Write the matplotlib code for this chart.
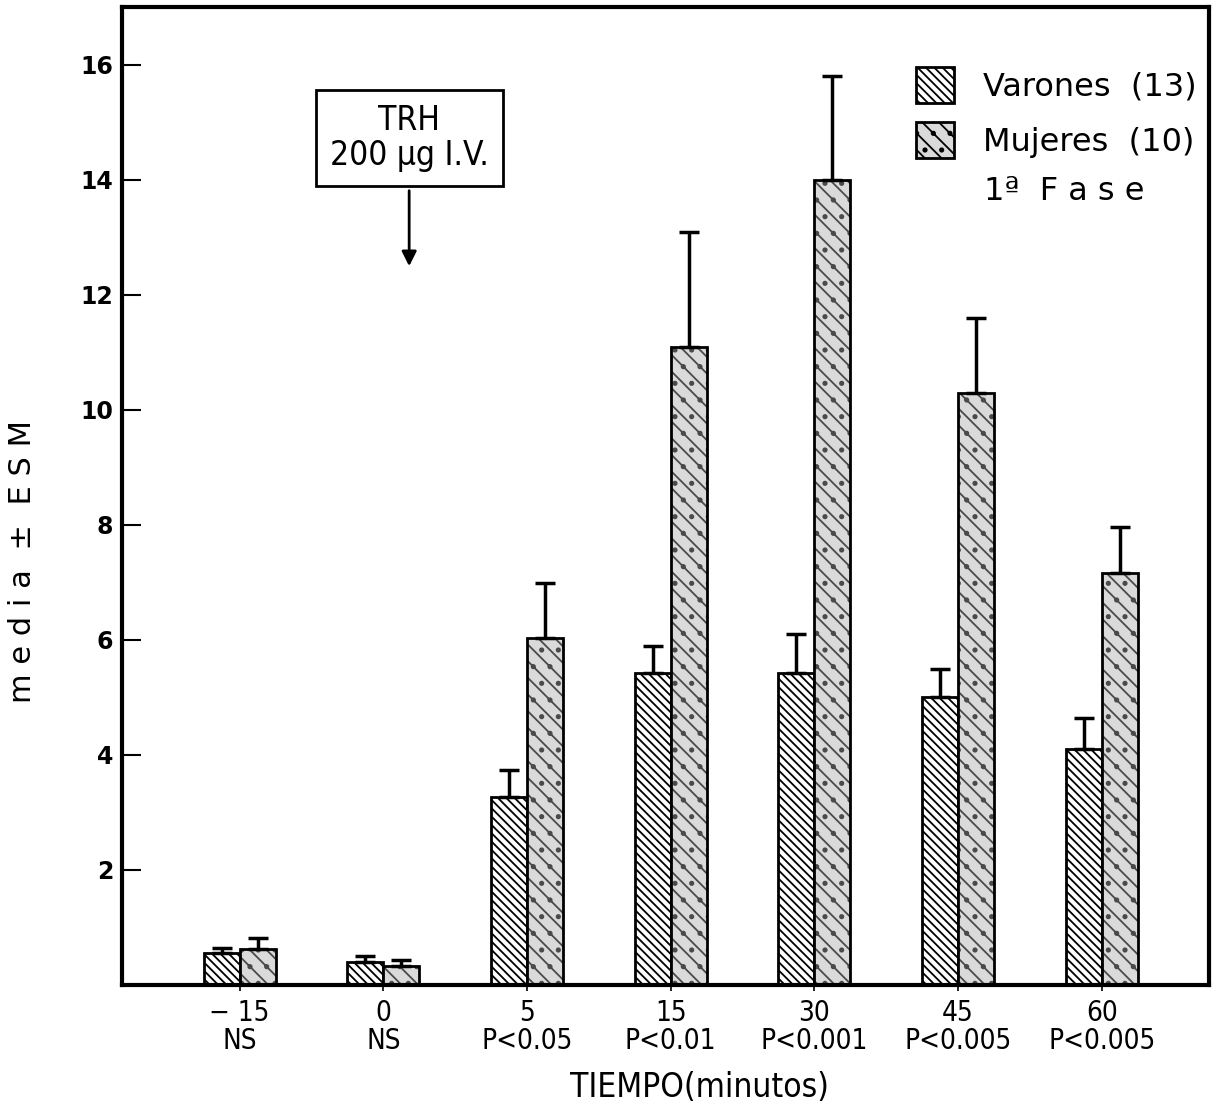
import matplotlib
matplotlib.use("Agg")
import matplotlib.pyplot as plt
import matplotlib.patches as mpatches
import numpy as np

# Data
tiempos = ["\u2212 15", "0", "5", "15", "30", "45", "60"]
significancia = ["NS", "NS", "P<0.05", "P<0.01", "P<0.001", "P<0.005", "P<0.005"]
varones = [0.55, 0.40, 3.27, 5.43, 5.43, 5.00, 4.10]
varones_esm = [0.10, 0.10, 0.47, 0.47, 0.68, 0.50, 0.54]
mujeres = [0.62, 0.33, 6.03, 11.10, 14.00, 10.30, 7.16]
mujeres_esm = [0.20, 0.10, 0.96, 2.00, 1.80, 1.30, 0.80]
yticks = [2, 4, 6, 8, 10, 12, 14, 16]

plt.rcParams["hatch.linewidth"] = 1.3
plt.rcParams["font.family"] = ["DejaVu Sans"]

fig = plt.figure(figsize=(12.18, 11.11), dpi=100)
ax = fig.add_axes([0.100, 0.1134, 0.893, 0.880])

x = np.arange(len(tiempos))
w = 0.25
# Varones: dense diagonal hatch
ax.bar(x - w / 2, varones, width=w, facecolor="white", edgecolor="black",
       hatch="\\\\\\\\", linewidth=2.0, zorder=2)
# Mujeres: grey stipple with wider diagonal stripes, outlined in black
ax.bar(x + w / 2, mujeres, width=w, facecolor="#dadada", edgecolor="#4a4a4a",
       hatch="\\\\.", linewidth=0, zorder=2)
ax.bar(x + w / 2, mujeres, width=w, fill=False, edgecolor="black",
       linewidth=2.0, zorder=2.5)

ax.errorbar(x - w / 2, varones, yerr=[np.zeros(len(varones)), varones_esm],
            fmt="none", ecolor="black", elinewidth=2.5, capsize=7, capthick=2.5, zorder=3)
ax.errorbar(x + w / 2, mujeres, yerr=[np.zeros(len(mujeres)), mujeres_esm],
            fmt="none", ecolor="black", elinewidth=2.5, capsize=7, capthick=2.5, zorder=3)

ax.set_xlim(-0.82, 6.75)
ax.set_ylim(0, 17)
ax.set_yticks(yticks)
ax.set_yticklabels([str(t) for t in yticks], fontsize=17, fontweight="bold")
ax.tick_params(axis="y", direction="in", length=14, width=1.5, pad=6)
ax.set_xticks(x)
ax.set_xticklabels([f"{t}\n{s}" for t, s in zip(tiempos, significancia)],
                   fontsize=20, fontstretch="condensed", linespacing=1.0)
ax.tick_params(axis="x", direction="out", length=4, width=1.2, pad=6)

for s in ax.spines.values():
    s.set_linewidth(3)

ax.set_xlabel("TIEMPO(minutos)", fontsize=24, fontstretch="condensed")
ax.xaxis.set_label_coords(0.531, -0.088)
ax.set_ylabel("m e d i a  \u00b1  E S M", fontsize=22)
ax.yaxis.set_label_coords(-0.078, 0.433)

# Injection annotation
ax.annotate("", xy=(1.18, 12.45), xytext=(1.18, 13.86),
            arrowprops=dict(arrowstyle="-|>", color="black", lw=2, mutation_scale=22))
ax.text(1.18, 14.73, "TRH\n200 \u03bcg I.V.", ha="center", va="center", fontsize=24,
        fontstretch="condensed", linespacing=1.05,
        bbox=dict(boxstyle="square,pad=0.42", facecolor="white", edgecolor="black", lw=2))

# Legend
hv = mpatches.Patch(facecolor="white", edgecolor="black", hatch="\\\\\\\\", lw=2)
hm = mpatches.Patch(facecolor="#dadada", edgecolor="black", hatch="\\\\.", lw=2)
ax.legend([hv, hm], ["Varones  (13)", "Mujeres  (10)"], loc="upper right",
          bbox_to_anchor=(1.0, 0.952), frameon=False, fontsize=23,
          handlelength=1.2, handleheight=1.35, handletextpad=0.9, labelspacing=0.6,
          borderaxespad=0.0)
ax.text(0.793, 0.812, "1\u00aa  F a s e", transform=ax.transAxes, fontsize=23,
        ha="left", va="center")

fig.savefig("out.png", dpi=100)
